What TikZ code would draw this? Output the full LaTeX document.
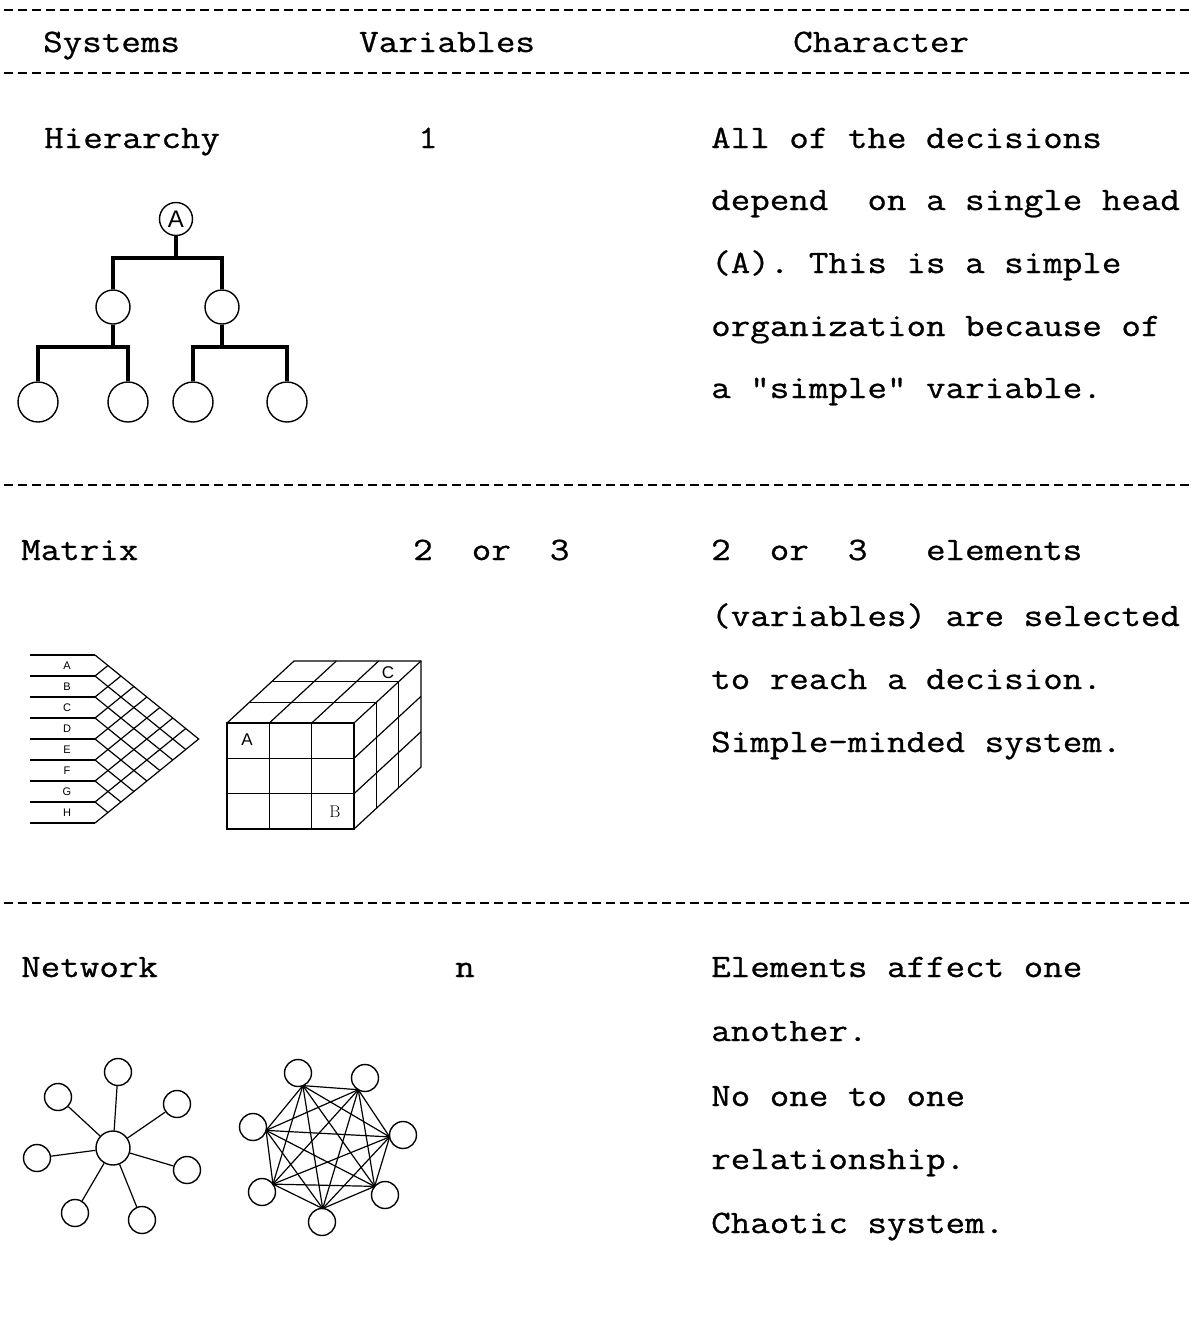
\documentclass[tikz,border=0pt]{standalone}
\usepackage{fontspec}
\setsansfont{Liberation Sans}
\newfontfamily\tw{Latin Modern Mono}[FakeStretch=1.16,FakeBold=0.8]
\usetikzlibrary{calc}
\begin{document}
\begin{tikzpicture}[x=1pt,y=-1pt,
  txt/.style={inner sep=0pt,anchor=base west,font=\tw\fontsize{32.7}{39}\selectfont},
  rule/.style={line width=2.6pt,dash pattern=on 9pt off 5pt},
  treeline/.style={line width=4.5pt},
  circ/.style={circle,draw,line width=1.4pt,inner sep=0pt},
  fine/.style={line width=1.2pt},
  lbl/.style={inner sep=0pt,font=\sffamily\fontsize{11}{11}\selectfont},
  cubelbl/.style={inner sep=0pt,font=\sffamily\fontsize{17}{17}\selectfont}
]
\useasboundingbox (0,0) rectangle (1195,1317);

% ---------- rules ----------
\draw[rule] (4,10) -- (1192,10);
\draw[rule] (4,73) -- (1192,73);
\draw[rule] (4,485) -- (1192,485);
\draw[rule] (4,903) -- (1192,903);

% ---------- header ----------
\node[txt] (hsys) at (43,52) {Systems};
\node[txt] (hvar) at (359,52) {Variables};
\node[txt] (hchar) at (793,52) {Character};

% ---------- row 1 ----------
\node[txt] (r1sys) at (44,148) {Hierarchy};
\node[txt] (r1var) at (418,148) {1};
\node[txt] (r1c1) at (711,148) {All of the decisions};
\node[txt] (r1c2) at (711,210) {depend~~on a single head};
\node[txt] (r1c3) at (711,273) {(A). This is a simple};
\node[txt] (r1c4) at (711,336) {organization because of};
\node[txt] (r1c5) at (711,398) {a "simple" variable.};

% hierarchy tree
\node[circ,minimum size=33pt,font=\sffamily\fontsize{24}{24}\selectfont] (A) at (176,219) {A};
\node[circ,minimum size=34pt] (m1) at (113,307) {};
\node[circ,minimum size=34pt] (m2) at (222,307) {};
\node[circ,minimum size=40pt] (l1) at (38,402) {};
\node[circ,minimum size=40pt] (l2) at (128,402) {};
\node[circ,minimum size=40pt] (l3) at (193,402) {};
\node[circ,minimum size=40pt] (l4) at (287,402) {};
\coordinate (bar1) at (0,258);
\coordinate (bar2) at (0,347);
\draw[treeline] (A.south) -- (A.south |- bar1);
\draw[treeline] (m1.north) -- (m1.north |- bar1) -- (m2.north |- bar1) -- (m2.north);
\draw[treeline] (m1.south) -- (m1.south |- bar2);
\draw[treeline] (m2.south) -- (m2.south |- bar2);
\draw[treeline] (l1.north) -- (l1.north |- bar2) -- (l2.north |- bar2) -- (l2.north);
\draw[treeline] (l3.north) -- (l3.north |- bar2) -- (l4.north |- bar2) -- (l4.north);

% ---------- row 2 ----------
\node[txt] (r2sys) at (21,560) {Matrix};
\node[txt] (r2var) at (413,560) {2~~or~~3};
\node[txt] (r2c1) at (711,560) {2~~or~~3~~~elements};
\node[txt] (r2c2) at (711,626) {(variables) are selected};
\node[txt] (r2c3) at (711,689) {to reach a decision.};
\node[txt] (r2c4) at (711,752) {Simple-minded system.};

% left matrix (chevron grid)
\foreach \i in {0,...,8}{
  \pgfmathsetmacro\yy{655+21*\i}
  \coordinate (P\i) at (95,\yy);
  \draw[fine] (30,\yy) -- (P\i);
}
\coordinate (apex) at (198.7,739);
\draw[fine] (P0) -- (apex) -- (P8);
\foreach \i in {1,...,7}{
  \pgfmathsetmacro\yi{655+21*\i}
  \pgfmathsetmacro\dx{(168-21*\i)/1.62+95}
  \pgfmathsetmacro\dy{(\yi+823)/2}
  \pgfmathsetmacro\ux{21*\i/1.62+95}
  \pgfmathsetmacro\uy{(\yi+655)/2}
  \draw[fine] (\ux,\uy) -- (P\i) -- (\dx,\dy);
}
\foreach \l [count=\i from 0] in {A,B,C,D,E,F,G,H}
  \node[lbl] (ml\l) at (67,{665.5+21*\i}) {\l};

% cube
\coordinate (F1) at (227,723);
\coordinate (F2) at (354,723);
\coordinate (F3) at (354,829);
\coordinate (F4) at (227,829);
\coordinate (B1) at (294,661);
\coordinate (B2) at (421,661);
\coordinate (B3) at (421,767);
\draw[fine] (F1) rectangle (F3);
\draw[fine] (F1) -- (B1) -- (B2) -- (B3) -- (F3);
\draw[fine] (F2) -- (B2);
\draw[fine] (269.3,723) -- (269.3,829);
\draw[fine] (311.7,723) -- (311.7,829);
\draw[fine] (227,758.3) -- (354,758.3);
\draw[fine] (227,793.7) -- (354,793.7);
\draw[fine] (269.3,723) -- ++(67,-62);
\draw[fine] (311.7,723) -- ++(67,-62);
\draw[fine] ($(F1)!1/3!(B1)$) -- ($(F2)!1/3!(B2)$);
\draw[fine] ($(F1)!2/3!(B1)$) -- ($(F2)!2/3!(B2)$);
\draw[fine] ($(F2)!1/3!(B2)$) -- ($(F3)!1/3!(B3)$);
\draw[fine] ($(F2)!2/3!(B2)$) -- ($(F3)!2/3!(B3)$);
\draw[fine] (354,758.3) -- ++(67,-62);
\draw[fine] (354,793.7) -- ++(67,-62);
\node[cubelbl] (cA) at (247,740) {A};
\node[inner sep=0pt,font=\rmfamily\fontsize{17}{17}\selectfont] (cB) at (335,812) {B};
\node[cubelbl] (cC) at (388,673) {C};

% ---------- row 3 ----------
\node[txt] (r3sys) at (21,977) {Network};
\node[txt] (r3var) at (455,977) {n};
\node[txt] (r3c1) at (711,977) {Elements affect one};
\node[txt] (r3c2) at (711,1041) {another.};
\node[txt] (r3c3) at (711,1106) {No one to one};
\node[txt] (r3c4) at (711,1169) {relationship.};
\node[txt] (r3c5) at (711,1233) {Chaotic system.};

% star network
\node[circ,minimum size=34pt] (sc) at (113,1148) {};
\node[circ,minimum size=27pt] (s1) at (118,1072) {};
\node[circ,minimum size=27pt] (s2) at (58,1097) {};
\node[circ,minimum size=27pt] (s3) at (177,1104) {};
\node[circ,minimum size=27pt] (s4) at (37,1158) {};
\node[circ,minimum size=27pt] (s5) at (187,1170) {};
\node[circ,minimum size=27pt] (s6) at (75,1213) {};
\node[circ,minimum size=27pt] (s7) at (142,1220) {};
\foreach \n in {s1,s2,s3,s4,s5,s6,s7}
  \draw[fine] (sc) -- (\n);

% complete network
\coordinate (kc) at (326,1146);
\node[circ,minimum size=27pt] (k1) at (298,1073) {};
\node[circ,minimum size=27pt] (k2) at (365,1078) {};
\node[circ,minimum size=27pt] (k3) at (403,1135) {};
\node[circ,minimum size=27pt] (k4) at (385,1195) {};
\node[circ,minimum size=27pt] (k5) at (322,1222) {};
\node[circ,minimum size=27pt] (k6) at (262,1192) {};
\node[circ,minimum size=27pt] (k7) at (253,1127) {};
\foreach \i in {1,...,7}
  \coordinate (v\i) at ($(k\i)!13.5pt!(kc)$);
\foreach \i in {1,...,6}{
  \pgfmathtruncatemacro\s{\i+1}
  \foreach \j in {\s,...,7}
    \draw[fine] (v\i) -- (v\j);
}
\end{tikzpicture}
\end{document}
